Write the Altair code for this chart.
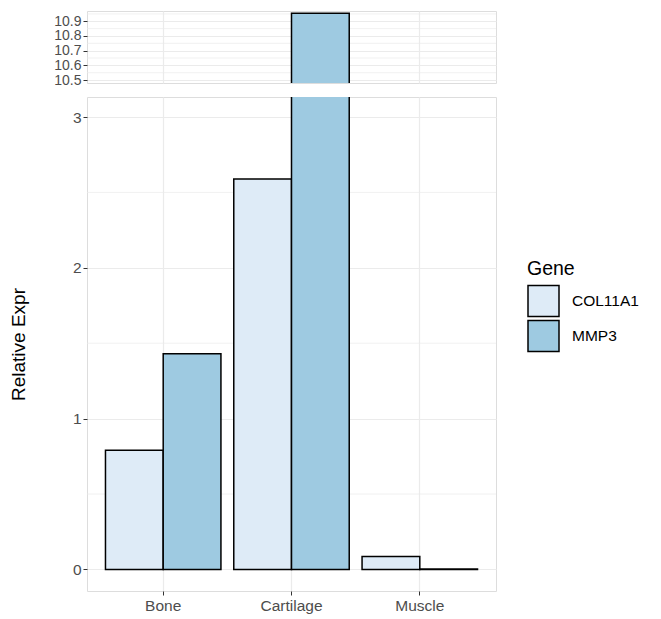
import altair as alt
import pandas as pd

tissues = ["Bone", "Cartilage", "Muscle"]
genes = ["COL11A1", "MMP3"]
col11a1 = [0.79, 2.59, 0.085]
mmp3 = [1.43, 10.955, 0.003]
colors = ["#DEEBF7", "#9ECAE1"]

top_ticks = [10.5, 10.6, 10.7, 10.8, 10.9]
top_minor = [10.55, 10.65, 10.75, 10.85, 10.95]
bottom_ticks = [0, 1, 2, 3]
bottom_minor = [0.5, 1.5, 2.5]

rows = []
for t, a, b in zip(tissues, col11a1, mmp3):
    rows.append({"tissue": t, "gene": genes[0], "value": a})
    rows.append({"tissue": t, "gene": genes[1], "value": b})
df = pd.DataFrame(rows)

FONT = "Liberation Sans"
W = 409


def panel(domain, ticks, minor, height, show_x, title, ylab_size):
    xaxis = alt.Axis(
        title=None, bandPosition=0.5, labelAngle=0, labels=show_x, ticks=show_x,
        domain=False, grid=True, gridColor="#EBEBEB", gridWidth=1.2,
        labelFontSize=15.5, labelColor="#4D4D4D", labelPadding=3,
        tickColor="#333333", tickSize=4, labelFont=FONT,
    )
    yaxis = alt.Axis(
        title=title, values=ticks, domain=False, grid=True, gridColor="#EBEBEB",
        gridWidth=1.2, labelFontSize=ylab_size, labelColor="#4D4D4D", labelPadding=2,
        labelOverlap=False, labelBound=False, labelFlush=False,
        tickColor="#333333", tickSize=4, labelFont=FONT, titleFont=FONT,
        titleFontSize=19, titleFontWeight="normal", titleColor="black",
        titlePadding=44,
    )
    yscale = alt.Scale(domain=domain, nice=False, zero=False)
    minor_df = pd.DataFrame({"value": minor})
    grid = alt.Chart(minor_df).mark_rule(color="#EBEBEB", strokeWidth=0.7).encode(
        y=alt.Y("value:Q", scale=yscale, axis=yaxis)
    )
    bars = alt.Chart(df).mark_bar(stroke="black", strokeWidth=1.5, clip=True).encode(
        x=alt.X("tissue:N", sort=tissues,
                scale=alt.Scale(paddingInner=0.1, paddingOuter=0.144), axis=xaxis),
        xOffset=alt.XOffset("gene:N", sort=genes),
        y=alt.Y("value:Q", scale=yscale, axis=yaxis),
        y2=alt.datum(0),
        color=alt.Color(
            "gene:N", sort=genes,
            scale=alt.Scale(domain=genes, range=colors),
            legend=alt.Legend(
                title="Gene", orient="none", legendX=440, legendY=249,
                symbolType="square", symbolSize=961, symbolStrokeColor="black",
                symbolStrokeWidth=1.5, symbolOpacity=1, rowPadding=-4,
                labelFontSize=15.5, labelFont=FONT, labelColor="black",
                labelOffset=12, titleFontSize=19.5, titleFont=FONT,
                titleFontWeight="normal", titleColor="black", titlePadding=5,
            ),
        ),
    )
    return alt.layer(grid, bars).properties(width=W, height=height)


top = panel([10.48, 10.97], top_ticks, top_minor, 72, False, None, 14)
bottom = panel([-0.143, 3.133], bottom_ticks, bottom_minor, 494, True, "Relative Expr", 15.5)

chart = alt.vconcat(top, bottom, spacing=8).properties(
    padding={"left": 0, "top": 2, "right": 5, "bottom": 0}
).configure_view(stroke="#777777", strokeWidth=1).configure(background="white")

chart.save("out.html", embed_options={"renderer": "svg", "actions": False})
